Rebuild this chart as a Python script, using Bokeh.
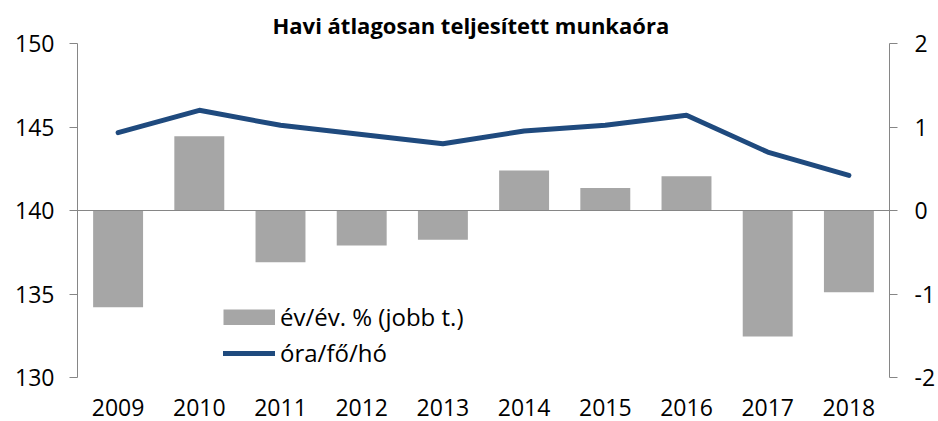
import math
from bokeh.plotting import figure
from bokeh.core.properties import value
from bokeh.models import (Range1d, FactorRange, LinearAxis, Span, Legend, LegendItem,
                          FixedTicker, LabelSet, ColumnDataSource)
from bokeh.embed import file_html
from bokeh.resources import INLINE

# ---- data ----
years = ["2009", "2010", "2011", "2012", "2013", "2014", "2015", "2016", "2017", "2018"]
hours = [144.66, 146.0, 145.1, 144.55, 144.0, 144.76, 145.1, 145.7, 143.5, 142.1]
yoy = [-1.16, 0.89, -0.62, -0.42, -0.35, 0.48, 0.27, 0.41, -1.51, -0.98]
left_ticks = [130, 135, 140, 145, 150]
right_ticks = [-2, -1, 0, 1, 2]
title_text = "Havi átlagosan teljesített munkaóra"
bar_label = "év/év. % (jobb t.)"
line_label = "óra/fő/hó"

FONT = "Open Sans"
FS = "23px"
AXIS_GRAY = "#868686"
BAR_COLOR = "#A6A6A6"
LINE_COLOR = "#1F4A7E"

# layout (pixels): value-axis span from top of frame to y of the lowest tick,
# the frame itself is extended to the bottom of the canvas so that the
# category labels can sit there without being clipped.
W, H = 938, 421
TOP, AX_BOTTOM = 43, 377
ext = (H - AX_BOTTOM) / (AX_BOTTOM - TOP)

L0, L1 = left_ticks[0], left_ticks[-1]
R0, R1 = right_ticks[0], right_ticks[-1]
left_range = Range1d(L0 - (L1 - L0) * ext, L1)
right_range = Range1d(R0 - (R1 - R0) * ext, R1)

p = figure(width=W, height=H, output_backend="svg", toolbar_location=None,
           x_range=FactorRange(*years, range_padding=0),
           y_range=left_range,
           min_border_left=77, min_border_right=48, min_border_top=TOP, min_border_bottom=0,
           x_axis_location=None, y_axis_location=None)
p.outline_line_color = None
p.xgrid.grid_line_color = None
p.ygrid.grid_line_color = None
p.background_fill_color = "white"
p.border_fill_color = "white"

p.extra_y_ranges = {"right": right_range}

p.title.text = title_text
p.title.align = "left"
p.title.offset = 195
p.title.text_font = FONT
p.title.text_font_style = "bold"
p.title.text_font_size = "22px"
p.title.text_color = "black"
p.title.standoff = 8

def style_axis(ax):
    ax.axis_line_color = AXIS_GRAY
    ax.major_tick_line_color = AXIS_GRAY
    ax.major_tick_in = 0
    ax.major_tick_out = 8
    ax.minor_tick_line_color = None
    ax.major_label_text_font = FONT
    ax.major_label_text_font_size = FS
    ax.major_label_text_color = "black"

yl = LinearAxis(ticker=FixedTicker(ticks=left_ticks), bounds=(L0, L1))
style_axis(yl)
yl.major_label_standoff = 15
p.add_layout(yl, "left")

yr = LinearAxis(y_range_name="right", ticker=FixedTicker(ticks=right_ticks), bounds=(R0, R1))
style_axis(yr)
yr.major_label_standoff = 17
yr.major_label_overrides = {t: str(t) for t in right_ticks}
p.add_layout(yr, "right")

bars = p.vbar(x=years, top=yoy, bottom=0, width=0.615, y_range_name="right",
              fill_color=BAR_COLOR, line_color=None)

zero = Span(location=0, dimension="width", y_range_name="right",
            line_color=AXIS_GRAY, line_width=1)
p.add_layout(zero)

ln = p.line(x=years, y=hours, line_color=LINE_COLOR, line_width=5,
            line_join="round", line_cap="round")

# category labels near the bottom of the canvas
px_per_unit = (AX_BOTTOM - TOP) / (L1 - L0)
label_y = L1 - (H - 6 - TOP) / px_per_unit
lab_src = ColumnDataSource(dict(x=years, y=[label_y] * len(years), t=years))
labels = LabelSet(x="x", y="y", text="t", source=lab_src, text_align="center",
                  text_baseline="alphabetic", text_font=value(FONT), text_font_size=value(FS),
                  text_color="black")
p.add_layout(labels)

# legend swatches
proxy = p.line(x=[years[0]], y=[math.nan], line_color=BAR_COLOR, line_width=16, line_cap="butt")
proxy_ln = p.line(x=[years[0]], y=[math.nan], line_color=LINE_COLOR, line_width=5, line_cap="round")

legend = Legend(items=[LegendItem(label=bar_label, renderers=[proxy]),
                       LegendItem(label=line_label, renderers=[proxy_ln])],
                location=(146, 8 + (H - AX_BOTTOM)), orientation="vertical",
                glyph_width=52, glyph_height=16, label_standoff=5, spacing=3,
                padding=0, margin=0, border_line_color=None, background_fill_alpha=0,
                label_text_font=FONT, label_text_font_size="24px", label_text_color="black")
p.add_layout(legend)

open("out.html", "w").write(file_html(p, INLINE))
